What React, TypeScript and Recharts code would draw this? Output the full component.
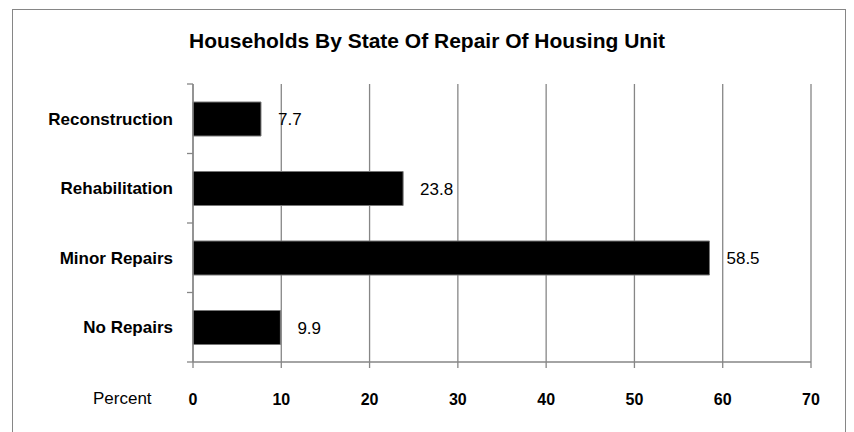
import { BarChart, Bar, XAxis, YAxis, CartesianGrid, LabelList } from "recharts";

const categories = ["Reconstruction", "Rehabilitation", "Minor Repairs", "No Repairs"];
const percentValues = [7.7, 23.8, 58.5, 9.9];
const xTicks = [0, 10, 20, 30, 40, 50, 60, 70];

const data = categories.map((name, i) => ({ name, value: percentValues[i] }));

const GRAY = "#868686";
const FONT = "'Liberation Sans', Arial, sans-serif";

// category label plus the boundary tick marks between categories
function CategoryTick(props: any) {
  const { x, y, payload, index, visibleTicksCount, height } = props;
  const half = payload?.offset || height / (categories.length * 2);
  const axisX = x + 20;
  const isLast = index === (visibleTicksCount ?? categories.length) - 1;
  return (
    <g>
      <text x={x} y={y} dy="0.35em" textAnchor="end" fontFamily={FONT} fontSize={17} fontWeight="bold" fill="#000">
        {payload.value}
      </text>
      <line x1={axisX - 6} x2={axisX} y1={y - half} y2={y - half} stroke={GRAY} strokeWidth={1.3} />
      {isLast && <line x1={axisX - 6} x2={axisX} y1={y + half} y2={y + half} stroke={GRAY} strokeWidth={1.3} />}
    </g>
  );
}

export default function App() {
  return (
    <div style={{ position: "absolute", left: 0, top: 0, width: 854, height: 432, background: "#fff" }}>
      <div
        style={{
          position: "absolute",
          left: 12,
          top: 9,
          width: 834,
          height: 430,
          border: `1px solid ${GRAY}`,
          boxSizing: "border-box",
        }}
      />
      <div
        style={{
          position: "absolute",
          left: 0,
          top: 29,
          width: 854,
          textAlign: "center",
          fontFamily: FONT,
          fontWeight: "bold",
          fontSize: 21,
          lineHeight: "24px",
          color: "#000",
        }}
      >
        Households By State Of Repair Of Housing Unit
      </div>
      <div
        style={{
          position: "absolute",
          left: 93,
          top: 388,
          fontFamily: FONT,
          fontSize: 17,
          lineHeight: "22px",
          color: "#000",
        }}
      >
        Percent
      </div>
      <div style={{ position: "absolute", left: 0, top: 0 }}>
        <BarChart
          width={854}
          height={432}
          data={data}
          layout="vertical"
          margin={{ top: 84, right: 43, bottom: 30, left: 13 }}
          barSize={34}
        >
          <CartesianGrid horizontal={false} stroke={GRAY} strokeWidth={1.3} />
          <XAxis
            type="number"
            domain={[0, 70]}
            ticks={xTicks}
            interval={0}
            height={40}
            tickSize={6}
            tickMargin={26}
            axisLine={{ stroke: GRAY, strokeWidth: 1.3 }}
            tickLine={{ stroke: GRAY, strokeWidth: 1.3 }}
            tick={{ fill: "#000", fontSize: 16, fontWeight: "bold", fontFamily: FONT }}
          />
          <YAxis
            type="category"
            dataKey="name"
            width={180}
            tickSize={0}
            tickMargin={20}
            axisLine={{ stroke: GRAY, strokeWidth: 1.3 }}
            tickLine={false}
            tick={<CategoryTick />}
            interval={0}
          />
          <Bar dataKey="value" fill="#000" stroke="#777" strokeWidth={1} isAnimationActive={false}>
            <LabelList
              dataKey="value"
              position="right"
              offset={17}
              fill="#000"
              fontSize={17}
              fontFamily={FONT}
              formatter={(v: any) => Number(v).toFixed(1)}
            />
          </Bar>
        </BarChart>
      </div>
    </div>
  );
}
